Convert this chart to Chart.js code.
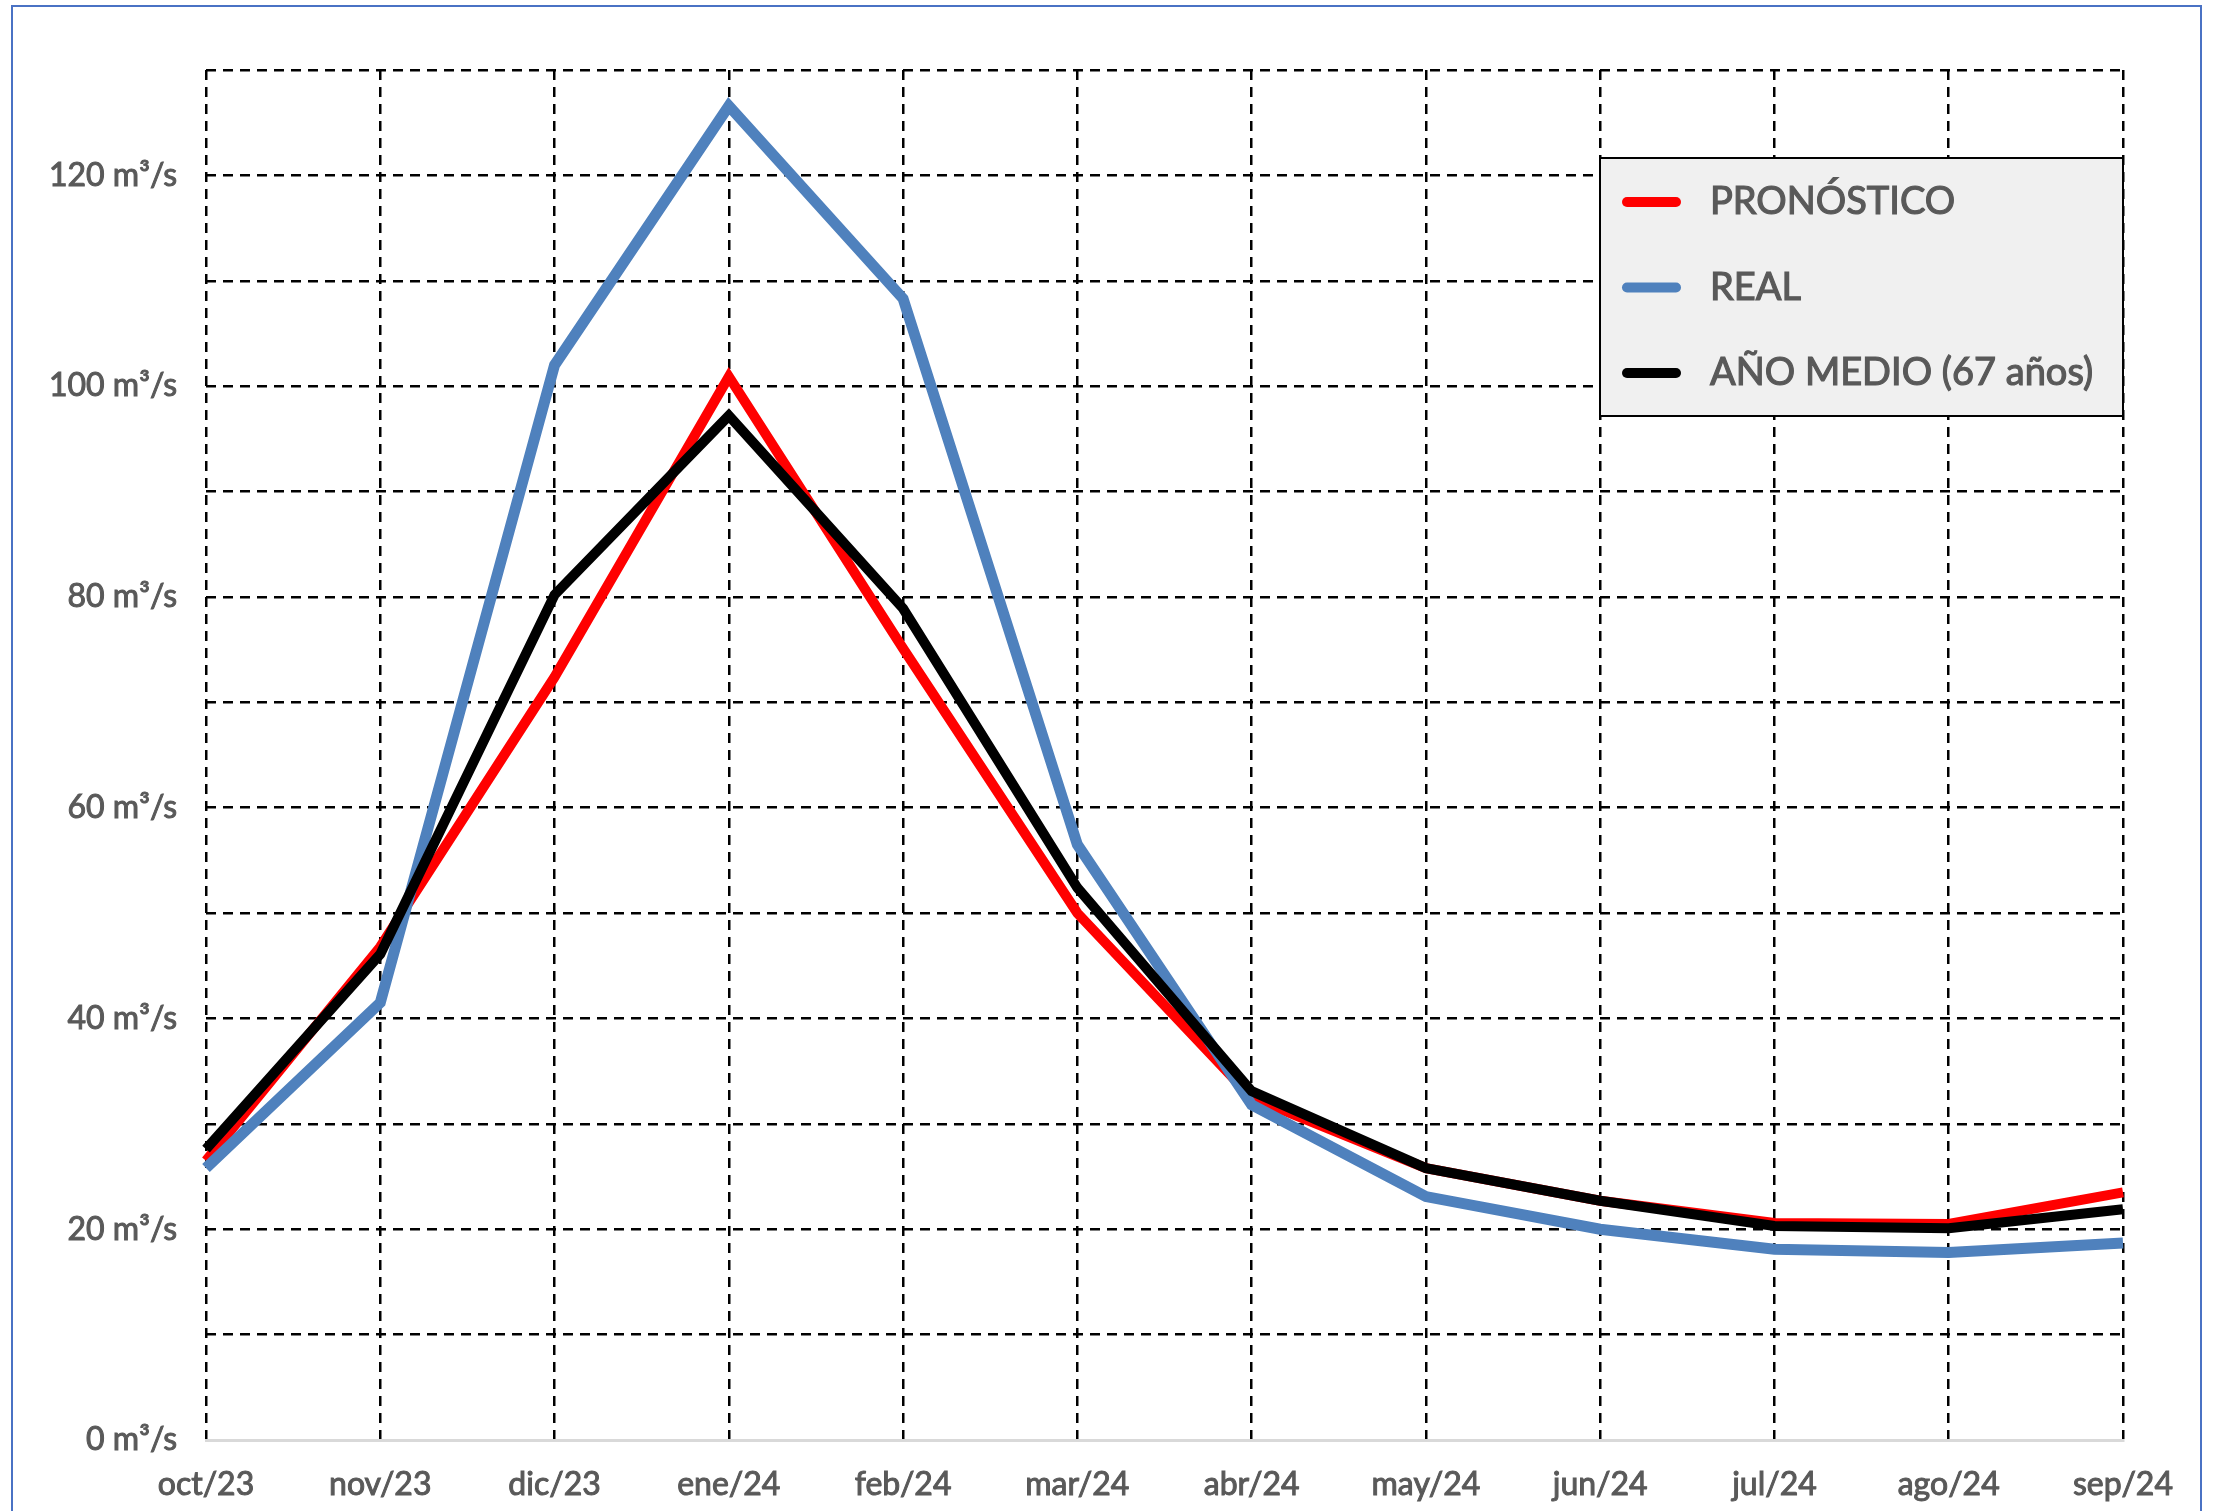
<!DOCTYPE html>
<html>
<head>
<meta charset="utf-8">
<script src="https://cdn.jsdelivr.net/npm/chart.js@4.4.1/dist/chart.umd.min.js"></script>
<style>
  html, body { margin: 0; padding: 0; background: #fff; }
  #wrap { position: relative; width: 2220px; height: 1511px; overflow: hidden; }
  #frame { position: absolute; left: 11px; top: 5px; width: 2191px; height: 1530px; border: 2px solid #4a72c4; box-sizing: border-box; }
  canvas { position: absolute; left: 0; top: 0; }
</style>
</head>
<body>
<div id="wrap">
  <div id="frame"></div>
  <canvas id="myChart" width="2220" height="1511"></canvas>
</div>
<script>
// data
const months = ["oct/23", "nov/23", "dic/23", "ene/24", "feb/24", "mar/24", "abr/24", "may/24", "jun/24", "jul/24", "ago/24", "sep/24"];
const pronostico = [26.5, 46.8, 72.4, 100.9, 75.1, 50.0, 32.5, 25.8, 22.7, 20.6, 20.5, 23.5];
const real = [25.8, 41.5, 102.0, 126.6, 108.3, 56.5, 31.8, 23.1, 20.0, 18.1, 17.8, 18.7];
const anoMedio = [27.6, 46.1, 80.2, 97.2, 78.9, 52.4, 33.1, 25.8, 22.7, 20.3, 20.1, 21.9];
const seriesNames = ["PRONÓSTICO", "REAL", "AÑO MEDIO (67 años)"];
const seriesColors = ["#ff0000", "#4f81bd", "#000000"];

const textColor = "#595959";
const fontFamily = "Lato, 'Open Sans', sans-serif";

// legend box drawn inside the plot, top right
const boxLegend = {
    id: "boxLegend",
    afterDraw(chart) {
        const ctx = chart.ctx;
        const x = 1600, y = 158, w = 523, h = 258;
        ctx.save();
        ctx.fillStyle = "#f0f0f0";
        ctx.fillRect(x, y, w, h);
        ctx.lineWidth = 2;
        ctx.strokeStyle = "#000";
        ctx.strokeRect(x, y, w, h);
        ctx.font = "38px " + fontFamily;
        ctx.textBaseline = "middle";
        chart.data.datasets.forEach((ds, i) => {
            const cy = 202 + i * 85.5;
            ctx.beginPath();
            ctx.lineCap = "round";
            ctx.lineWidth = 10;
            ctx.strokeStyle = ds.borderColor;
            ctx.moveTo(1627, cy);
            ctx.lineTo(1676, cy);
            ctx.stroke();
            ctx.fillStyle = textColor;
            ctx.strokeStyle = textColor;
            ctx.lineWidth = 1.2;
            ctx.fillText(ds.label, 1710, cy);
            ctx.strokeText(ds.label, 1710, cy);
        });
        ctx.restore();
    }
};

const ctx = document.getElementById("myChart").getContext("2d");

new Chart(ctx, {
    type: "line",
    data: {
        labels: months,
        datasets: [
            { label: seriesNames[0], data: pronostico, borderColor: seriesColors[0], borderWidth: 10, order: 2 },
            { label: seriesNames[1], data: real, borderColor: seriesColors[1], borderWidth: 11, order: 1 },
            { label: seriesNames[2], data: anoMedio, borderColor: seriesColors[2], borderWidth: 10, order: 0 }
        ]
    },
    options: {
        responsive: false,
        animation: false,
        events: [],
        layout: { padding: { top: 70, right: 97, left: 0, bottom: 0 } },
        elements: {
            point: { radius: 0 },
            line: { tension: 0, fill: false, borderJoinStyle: "miter", borderCapStyle: "butt" }
        },
        plugins: {
            legend: { display: false },
            tooltip: { enabled: false }
        },
        scales: {
            x: {
                offset: false,
                grid: {
                    color: "#000",
                    lineWidth: 2.5,
                    drawTicks: false
                },
                border: { display: true, color: "#d9d9d9", width: 3, dash: [10, 7] },
                ticks: {
                    color: textColor,
                    textStrokeColor: textColor,
                    textStrokeWidth: 1,
                    font: { family: fontFamily, size: 32 },
                    padding: 25,
                    maxRotation: 0,
                    autoSkip: false
                },
                afterFit(scale) { scale.height = 71; }
            },
            y: {
                min: 0,
                max: 130,
                grid: {
                    color: (c) => (c.tick && c.tick.value === 0 ? "rgba(0,0,0,0)" : "#000"),
                    lineWidth: 2.5,
                    drawTicks: false
                },
                border: { display: false, dash: [10, 7] },
                ticks: {
                    stepSize: 10,
                    color: textColor,
                    textStrokeColor: textColor,
                    textStrokeWidth: 1,
                    font: { family: fontFamily, size: 32 },
                    padding: 29,
                    callback: (v) => (v % 20 === 0 ? v + " m³/s" : "")
                },
                afterFit(scale) { scale.width = 206; }
            }
        }
    },
    plugins: [boxLegend]
});
</script>
</body>
</html>
